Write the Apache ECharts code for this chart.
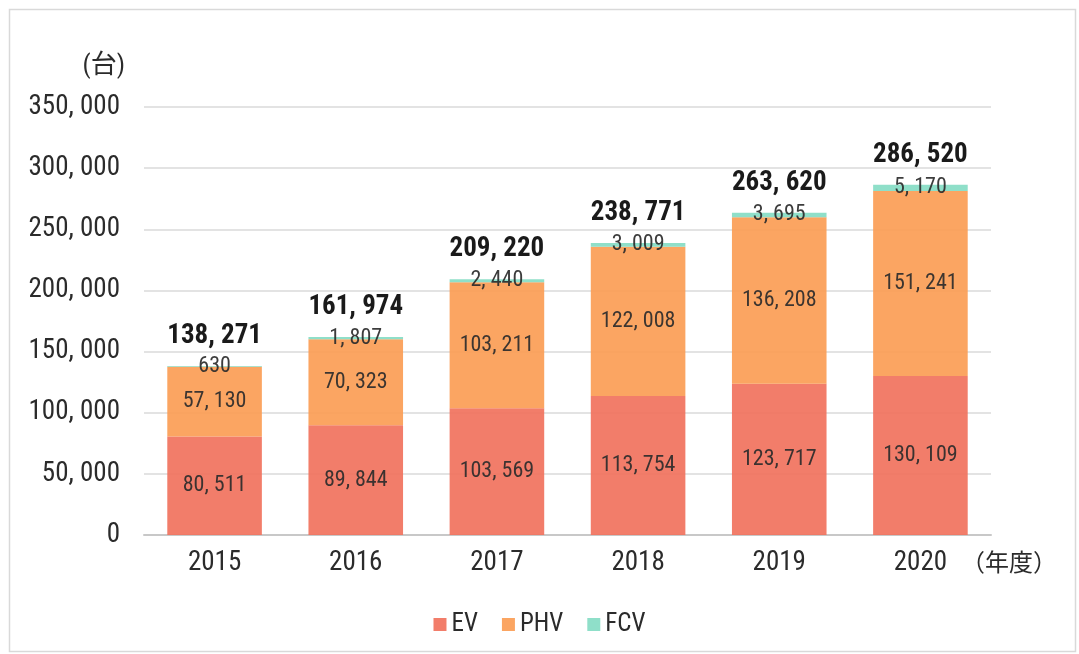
<!DOCTYPE html>
<html>
<head>
<meta charset="utf-8">
<script src="https://cdn.jsdelivr.net/npm/echarts@6/dist/echarts.min.js"></script>
<style>
  html, body { margin: 0; padding: 0; background: #fff; }
  #chart { width: 1079px; height: 654px; }
</style>
</head>
<body>
<div id="chart"></div>
<script>
const years = ["2015", "2016", "2017", "2018", "2019", "2020"];
const ev = [80511, 89844, 103569, 113754, 123717, 130109];
const phv = [57130, 70323, 103211, 122008, 136208, 151241];
const fcv = [630, 1807, 2440, 3009, 3695, 5170];
const totals = [138271, 161974, 209220, 238771, 263620, 286520];

const FONT = "'Roboto Condensed', 'Noto Sans CJK JP', sans-serif";
const CJK = "'Noto Sans CJK JP', sans-serif";

// 138271 -> "138, 271" (wide comma like the source)
const fmt = (v) => v.toLocaleString("en-US").replace(/,/g, ", ");

const chart = echarts.init(document.getElementById("chart"), null, { renderer: "canvas" });

const innerLabel = {
  show: true,
  position: "inside",
  color: "#2b2b2b",
  fontSize: 22,
  fontFamily: FONT,
  formatter: (p) => fmt(p.value),
};

chart.setOption({
  backgroundColor: "#fff",
  animation: false,
  graphic: [
    {
      type: "rect",
      shape: { x: 9.5, y: 9.5, width: 1066, height: 642 },
      style: { fill: "none", stroke: "#d9d9d9", lineWidth: 1.5 },
      z: -1,
    },
  ],
  grid: { left: 144, right: 88, top: 107, bottom: 119 },
  legend: {
    data: ["EV", "PHV", "FCV"],
    bottom: 12,
    left: "center",
    icon: "rect",
    itemWidth: 13,
    itemHeight: 13,
    itemGap: 24,
    textStyle: { color: "#2b2b2b", fontSize: 25, fontFamily: FONT },
  },
  xAxis: {
    type: "category",
    data: years,
    name: "（年度）",
    nameLocation: "end",
    nameGap: -30,
    nameTextStyle: {
      color: "#2b2b2b",
      fontSize: 24,
      fontFamily: CJK,
      align: "left",
      verticalAlign: "top",
      padding: [15, 0, 0, 0],
    },
    axisLine: { lineStyle: { color: "#c8c8c8", width: 2 } },
    axisTick: { show: false },
    axisLabel: { color: "#2b2b2b", fontSize: 27, fontFamily: FONT, margin: 15 },
  },
  yAxis: {
    type: "value",
    min: 0,
    max: 350000,
    interval: 50000,
    name: "(台)",
    nameLocation: "end",
    nameGap: 27,
    nameTextStyle: {
      color: "#2b2b2b",
      fontSize: 26,
      fontFamily: FONT,
      align: "right",
      padding: [0, 19, 0, 0],
    },
    axisLine: { show: false },
    axisTick: { show: false },
    axisLabel: {
      color: "#2b2b2b",
      fontSize: 27,
      fontFamily: FONT,
      margin: 24,
      padding: [4, 0, 0, 0],
      formatter: (v) => fmt(v),
    },
    splitLine: { lineStyle: { color: "#e3e3e3", width: 2 } },
  },
  series: [
    {
      name: "EV",
      type: "bar",
      stack: "total",
      barWidth: "67%",
      data: ev,
      itemStyle: { color: "#F1725D", opacity: 0.92 },
      label: innerLabel,
    },
    {
      name: "PHV",
      type: "bar",
      stack: "total",
      data: phv,
      itemStyle: { color: "#FB9D55", opacity: 0.92 },
      label: innerLabel,
    },
    {
      name: "FCV",
      type: "bar",
      stack: "total",
      data: fcv,
      itemStyle: { color: "#86DCC4", opacity: 0.92 },
      label: innerLabel,
    },
    {
      name: "合計",
      type: "bar",
      stack: "total",
      data: totals.map(() => 0),
      itemStyle: { color: "transparent" },
      label: {
        show: true,
        position: "top",
        distance: 16,
        color: "#1a1a1a",
        fontSize: 27,
        fontWeight: "bold",
        fontFamily: FONT,
        formatter: (p) => fmt(totals[p.dataIndex]),
      },
    },
  ],
});
</script>
</body>
</html>
